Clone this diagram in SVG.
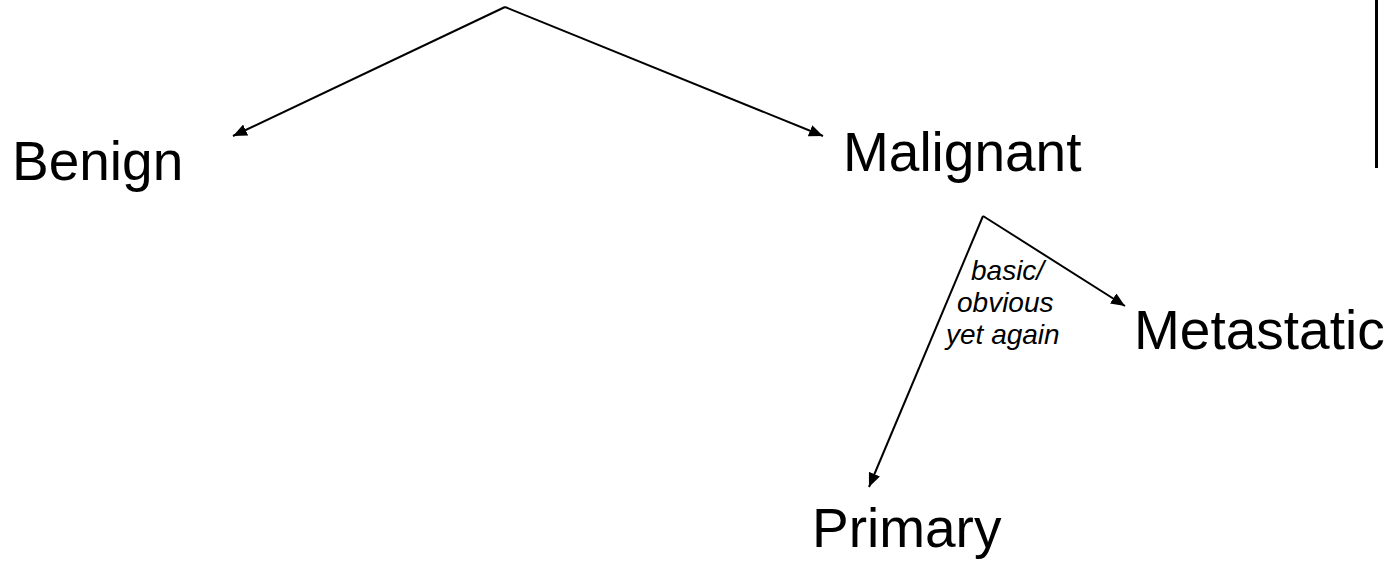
<svg xmlns="http://www.w3.org/2000/svg" width="1389" height="564" viewBox="0 0 1389 564">
<style>
.n{font-family:"Liberation Sans",Arial,sans-serif;font-size:55px;fill:#000}
.l{font-family:"Liberation Sans",Arial,sans-serif;font-size:28px;font-style:italic;fill:#000}
.c{stroke:#000;stroke-width:2;fill:none}
</style>
<defs>
<marker id="a" viewBox="0 0 14 12" refX="14" refY="6" markerWidth="14" markerHeight="12" markerUnits="userSpaceOnUse" orient="auto"><path d="M0,0L14,6L0,12z" fill="#000"/></marker>
</defs>
<rect width="1389" height="564" fill="#fff"/>
<g id="connectors">
<path class="c" d="M505,7L233,136" marker-end="url(#a)"/>
<path class="c" d="M505,7L823,136" marker-end="url(#a)"/>
<path class="c" d="M983,216L1125,306" marker-end="url(#a)"/>
<path class="c" d="M983,216L869,487" marker-end="url(#a)"/>
</g>
<line x1="1376.5" y1="0" x2="1376.5" y2="168" stroke="#000" stroke-width="3"/>
<g id="benign"><text class="n" x="12" y="180">Benign</text></g>
<g id="malignant"><text class="n" x="843" y="171">Malignant</text></g>
<g id="metastatic"><text class="n" x="1134" y="349">Metastatic</text></g>
<g id="primary"><text class="n" x="812" y="547">Primary</text></g>
<g id="label"><text class="l"><tspan x="971" y="280">basic/</tspan><tspan x="957" y="312">obvious</tspan><tspan x="946" y="344">yet again</tspan></text></g>
</svg>
